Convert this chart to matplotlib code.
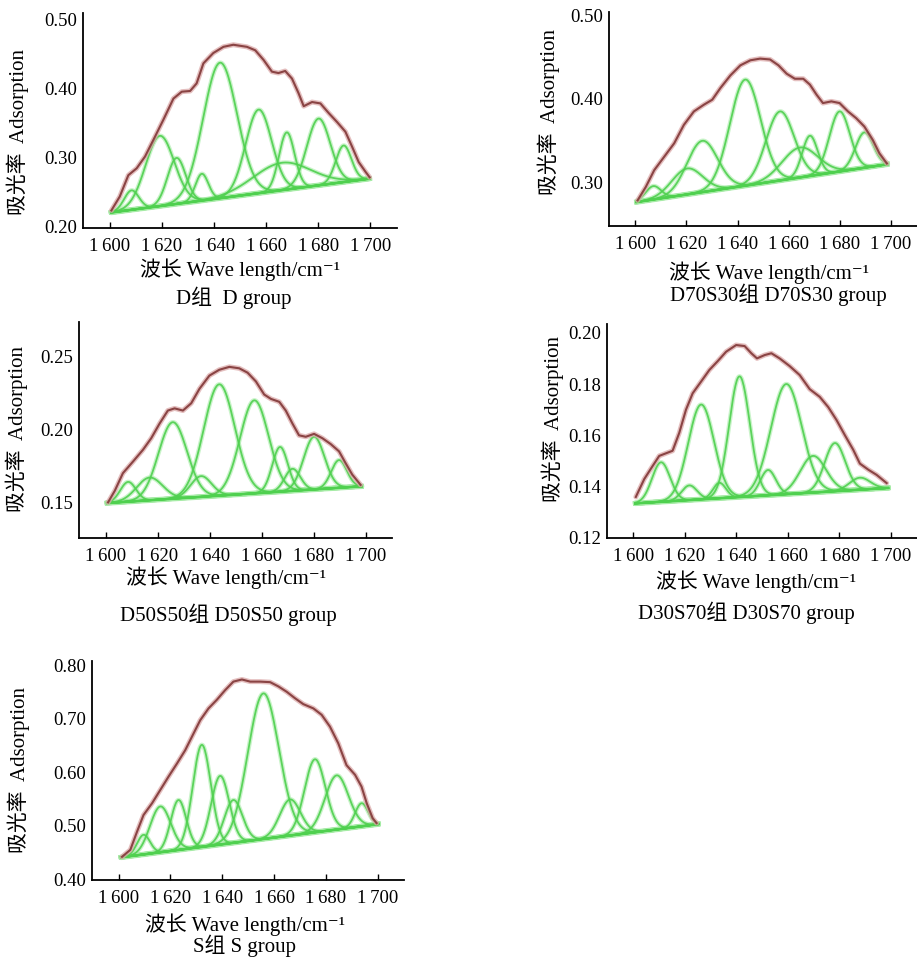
import numpy as np
import matplotlib
matplotlib.use("Agg")
import matplotlib.pyplot as plt

plt.rcParams['font.family'] = ['Liberation Serif', 'Noto Sans CJK SC', 'DejaVu Sans']

# ---------------- data ----------------
group_labels = ["D组  D group", "D70S30组 D70S30 group", "D50S50组 D50S50 group",
                "D30S70组 D30S70 group", "S组 S group"]
x_label = "波长 Wave length/cm\u207b\u00b9"
y_label = "吸光率  Adsorption"
x_ticks = [1600, 1620, 1640, 1660, 1680, 1700]
x_tick_labels = ["1\u2009600", "1\u2009620", "1\u2009640", "1\u2009660", "1\u2009680", "1\u2009700"]

# Panel D
d_env_x = [1600.6, 1603.8, 1607.1, 1610.3, 1613.5, 1616.7, 1620.5, 1624.4, 1627.6, 1630.8,
           1633.3, 1635.9, 1639.7, 1643.6, 1647.4, 1652.6, 1655.8, 1659.0, 1662.2, 1664.7,
           1667.3, 1669.9, 1672.4, 1674.4, 1677.6, 1680.8, 1684.0, 1687.2, 1690.4, 1693.0,
           1695.5, 1698.1, 1699.7]
d_env_y = [0.224, 0.244, 0.275, 0.285, 0.302, 0.326, 0.355, 0.386, 0.396, 0.397,
           0.408, 0.437, 0.452, 0.461, 0.464, 0.461, 0.456, 0.442, 0.425, 0.423,
           0.426, 0.415, 0.394, 0.375, 0.381, 0.379, 0.365, 0.352, 0.338, 0.316,
           0.294, 0.280, 0.272]
d_base = [(1600.5, 0.221), (1699.7, 0.270)]
d_pk_center = [1608.3, 1619.2, 1625.6, 1635.3, 1642.3, 1657.1, 1667.9, 1666.0, 1680.1, 1689.7]
d_pk_apex = [0.253, 0.332, 0.300, 0.277, 0.438, 0.370, 0.337, 0.293, 0.357, 0.318]
d_pk_sigma = [2.8, 5.5, 3.5, 2.5, 6.5, 5.0, 3.0, 11.0, 4.5, 3.0]

# Panel D70S30
a_env_x = [1600.9, 1604.1, 1607.4, 1611.3, 1615.2, 1619.0, 1622.9, 1626.8, 1630.1, 1633.3,
           1637.2, 1641.1, 1645.0, 1648.8, 1652.7, 1656.0, 1659.2, 1662.4, 1665.7, 1668.3,
           1670.9, 1673.4, 1676.7, 1679.9, 1683.2, 1686.4, 1689.6, 1692.9, 1695.5, 1698.4]
a_env_y = [0.279, 0.295, 0.315, 0.331, 0.347, 0.369, 0.385, 0.393, 0.399, 0.413,
           0.428, 0.440, 0.446, 0.448, 0.447, 0.440, 0.430, 0.424, 0.424, 0.417,
           0.405, 0.395, 0.397, 0.395, 0.385, 0.377, 0.367, 0.351, 0.335, 0.323]
a_base = [(1600.5, 0.277), (1698.6, 0.322)]
a_pk_center = [1607.0, 1620.3, 1626.2, 1643.0, 1656.6, 1668.3, 1664.4, 1679.9, 1689.6]
a_pk_apex = [0.296, 0.317, 0.350, 0.423, 0.385, 0.356, 0.342, 0.385, 0.360]
a_pk_sigma = [3.0, 6.0, 6.0, 6.0, 5.5, 3.0, 7.0, 4.0, 3.5]

# Panel D50S50
b_env_x = [1600.9, 1603.5, 1606.6, 1610.5, 1614.3, 1617.5, 1620.7, 1623.9, 1626.5, 1629.7,
           1632.9, 1636.1, 1639.9, 1643.7, 1647.6, 1651.4, 1654.6, 1657.8, 1661.0, 1663.6,
           1666.8, 1669.3, 1671.9, 1674.4, 1677.0, 1680.2, 1683.4, 1686.6, 1689.8, 1692.3,
           1694.9, 1698.1]
b_env_y = [0.150, 0.158, 0.170, 0.178, 0.186, 0.194, 0.204, 0.213, 0.2145, 0.213,
           0.218, 0.228, 0.237, 0.241, 0.243, 0.242, 0.239, 0.233, 0.224, 0.221,
           0.219, 0.213, 0.204, 0.196, 0.195, 0.197, 0.194, 0.190, 0.185, 0.177,
           0.169, 0.162]
b_base = [(1600.5, 0.1495), (1698.5, 0.161)]
b_pk_center = [1608.6, 1616.9, 1625.8, 1636.7, 1643.7, 1657.2, 1667.1, 1671.9, 1680.2, 1689.8]
b_pk_apex = [0.164, 0.167, 0.205, 0.168, 0.231, 0.220, 0.188, 0.173, 0.195, 0.179]
b_pk_sigma = [3.0, 5.0, 5.5, 4.0, 6.0, 5.5, 3.0, 3.0, 4.0, 3.0]

# Panel D30S70
c_env_x = [1600.9, 1604.2, 1607.4, 1610.0, 1612.6, 1615.2, 1617.8, 1620.4, 1623.0, 1626.3,
           1629.5, 1632.8, 1636.0, 1639.9, 1643.2, 1645.8, 1648.0, 1651.0, 1653.6, 1656.8,
           1660.7, 1664.6, 1668.5, 1672.4, 1675.7, 1678.9, 1682.2, 1685.4, 1688.0, 1691.3,
           1694.5, 1698.4]
c_env_y = [0.136, 0.143, 0.148, 0.152, 0.153, 0.154, 0.161, 0.170, 0.1764, 0.181,
           0.1855, 0.189, 0.1926, 0.1952, 0.1948, 0.192, 0.190, 0.1913, 0.192, 0.190,
           0.187, 0.1835, 0.178, 0.175, 0.171, 0.166, 0.160, 0.1544, 0.149, 0.1466,
           0.1446, 0.1414]
c_base = [(1600.7, 0.1335), (1699.0, 0.1395)]
c_pk_center = [1610.7, 1621.7, 1626.3, 1633.4, 1641.2, 1652.3, 1659.4, 1669.8, 1678.3, 1688.0]
c_pk_apex = [0.1495, 0.1405, 0.172, 0.1415, 0.183, 0.1465, 0.180, 0.152, 0.157, 0.1435]
c_pk_sigma = [3.5, 3.0, 5.0, 2.5, 4.0, 3.0, 6.0, 5.0, 4.0, 4.0]

# Panel S
s_env_x = [1601.3, 1604.5, 1607.1, 1609.6, 1612.9, 1616.1, 1619.3, 1622.5, 1625.7, 1628.9,
           1631.5, 1634.7, 1637.9, 1641.1, 1644.3, 1647.6, 1650.8, 1654.6, 1658.5, 1661.7,
           1664.9, 1668.1, 1671.3, 1675.2, 1678.4, 1681.6, 1684.8, 1688.0, 1691.3, 1693.8,
           1695.8, 1698.1, 1699.6]
s_env_y = [0.442, 0.455, 0.489, 0.520, 0.542, 0.567, 0.592, 0.616, 0.641, 0.672,
           0.697, 0.719, 0.735, 0.753, 0.769, 0.773, 0.769, 0.769, 0.768, 0.760,
           0.750, 0.738, 0.727, 0.719, 0.707, 0.685, 0.654, 0.613, 0.595, 0.573,
           0.542, 0.514, 0.505]
s_base = [(1600.9, 0.441), (1700.3, 0.503)]
s_pk_center = [1609.6, 1616.1, 1623.1, 1632.1, 1639.2, 1644.3, 1655.9, 1666.2, 1675.8, 1684.2, 1693.8]
s_pk_apex = [0.483, 0.536, 0.548, 0.651, 0.593, 0.548, 0.747, 0.549, 0.624, 0.594, 0.542]
s_pk_sigma = [2.5, 4.0, 3.0, 3.5, 3.5, 3.5, 6.0, 4.0, 4.0, 4.5, 2.5]

panels = [
    dict(env=(d_env_x, d_env_y), base=d_base, pk=(d_pk_center, d_pk_apex, d_pk_sigma),
         ylim=(0.1985, 0.510), yticks=[0.20, 0.30, 0.40, 0.50], fmt="{:.2f}",
         rect=[83, 13, 397, 228], ylab=(-0.172, 0.447), xlab=(0.50, -0.195), glab=(0.48, -0.326)),
    dict(env=(a_env_x, a_env_y), base=a_base, pk=(a_pk_center, a_pk_apex, a_pk_sigma),
         ylim=(0.2484, 0.5036), yticks=[0.30, 0.40, 0.50], fmt="{:.2f}",
         rect=[609, 12, 917, 226], ylab=(-0.158, 0.533), xlab=(0.52, -0.22), glab=(0.55, -0.322)),
    dict(env=(b_env_x, b_env_y), base=b_base, pk=(b_pk_center, b_pk_apex, b_pk_sigma),
         ylim=(0.1255, 0.2738), yticks=[0.15, 0.20, 0.25], fmt="{:.2f}",
         rect=[79, 322, 392, 538], ylab=(-0.163, 0.505), xlab=(0.47, -0.185), glab=(0.476, -0.356)),
    dict(env=(c_env_x, c_env_y), base=c_base, pk=(c_pk_center, c_pk_apex, c_pk_sigma),
         ylim=(0.12, 0.2034), yticks=[0.12, 0.14, 0.16, 0.18, 0.20], fmt="{:.2f}",
         rect=[607, 324, 917, 538], ylab=(-0.140, 0.556), xlab=(0.48, -0.206), glab=(0.45, -0.35)),
    dict(env=(s_env_x, s_env_y), base=s_base, pk=(s_pk_center, s_pk_apex, s_pk_sigma),
         ylim=(0.3987, 0.8075), yticks=[0.40, 0.50, 0.60, 0.70, 0.80], fmt="{:.2f}",
         rect=[92, 661, 404, 880], ylab=(-0.200, 0.502), xlab=(0.49, -0.205), glab=(0.49, -0.30)),
]

W, H = 917, 957
fig = plt.figure(figsize=(W / 100, H / 100), dpi=100)

GREEN = '#4fd04f'
GREEN_HALO = '#a6eca6'
RED = '#8a4444'
RED_HALO = '#dcaaaa'

TICK_FS = 13.5
LAB_FS = 15

for i, p in enumerate(panels):
    l, t, r, b = p['rect']
    ax = fig.add_axes([l / W, 1 - b / H, (r - l) / W, (b - t) / H])
    ax.set_xlim(1589.7, 1710.2)
    ax.set_ylim(*p['ylim'])

    (x0, y0), (x1, y1) = p['base']
    xs = np.linspace(x0, x1, 400)
    base = y0 + (y1 - y0) * (xs - x0) / (x1 - x0)

    # baseline
    ax.plot([x0, x1], [y0, y1], color=GREEN_HALO, lw=4.0, alpha=0.8, solid_capstyle='round', zorder=2)
    ax.plot([x0, x1], [y0, y1], color=GREEN, lw=1.8, zorder=3)

    # fitted component peaks
    for c, apex, s in zip(*p['pk']):
        bc = y0 + (y1 - y0) * (c - x0) / (x1 - x0)
        yy = base + (apex - bc) * np.exp(-0.5 * ((xs - c) / s) ** 2)
        ax.plot(xs, yy, color=GREEN_HALO, lw=3.2, alpha=0.6, zorder=2)
        ax.plot(xs, yy, color=GREEN, lw=1.3, alpha=0.9, zorder=3)

    # envelope
    ex, ey = p['env']
    ax.plot(ex, ey, color=RED_HALO, lw=3.6, alpha=0.75, solid_capstyle='round',
            solid_joinstyle='round', zorder=4)
    ax.plot(ex, ey, color=RED, lw=1.5, solid_joinstyle='round', zorder=5)

    for sp in ['top', 'right']:
        ax.spines[sp].set_visible(False)
    for sp in ['left', 'bottom']:
        ax.spines[sp].set_linewidth(1.3)

    ax.set_xticks(x_ticks)
    ax.set_xticklabels(x_tick_labels, fontsize=TICK_FS)
    ax.set_yticks(p['yticks'])
    ax.set_yticklabels([p['fmt'].format(v) for v in p['yticks']], fontsize=TICK_FS)
    ax.tick_params(axis='x', direction='in', length=4, width=1.0, pad=7)
    ax.tick_params(axis='y', length=0, pad=4)

    ax.set_ylabel(y_label, fontsize=LAB_FS)
    ax.yaxis.set_label_coords(*p['ylab'])
    ax.text(p['xlab'][0], p['xlab'][1], x_label, transform=ax.transAxes,
            ha='center', va='center', fontsize=LAB_FS)
    ax.text(p['glab'][0], p['glab'][1], group_labels[i], transform=ax.transAxes,
            ha='center', va='center', fontsize=LAB_FS)

fig.savefig("out.png", dpi=100, facecolor='white')
